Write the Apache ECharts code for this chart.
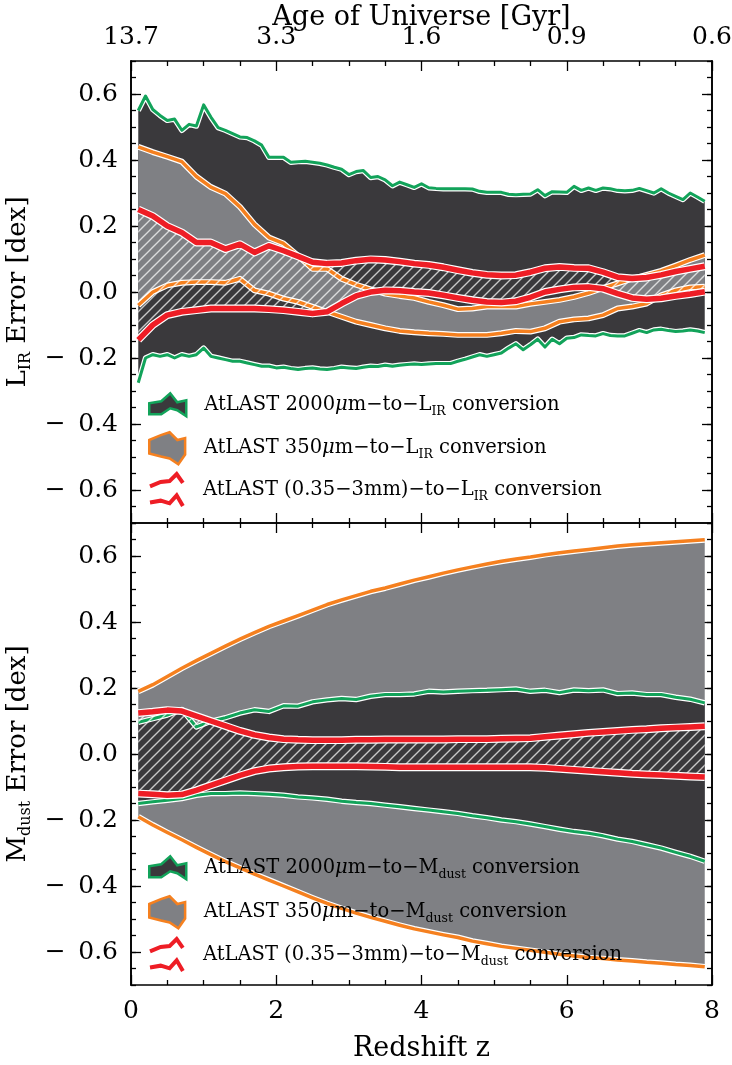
<!DOCTYPE html>
<html><head><meta charset="utf-8">
<script src="https://cdn.jsdelivr.net/npm/echarts@6/dist/echarts.min.js"></script>
<style>html,body{margin:0;padding:0;background:#fff}#c{width:732px;height:1065px}</style>
</head><body><div id="c"></div>
<script>
// ---------------- DATA ----------------
const zFine = [0.1,0.2,0.3,0.4,0.5,0.6,0.7,0.8,0.9,1.0,1.1,1.2,1.3,1.4,1.5,1.6,1.7,1.8,1.9,2.0,
  2.1,2.2,2.3,2.4,2.5,2.6,2.7,2.8,2.9,3.0,3.1,3.2,3.3,3.4,3.5,3.6,3.7,3.8,3.9,4.0,
  4.1,4.2,4.3,4.4,4.5,4.6,4.7,4.8,4.9,5.0,5.1,5.2,5.3,5.4,5.5,5.6,5.7,5.8,5.9,6.0,
  6.1,6.2,6.3,6.4,6.5,6.6,6.7,6.8,6.9,7.0,7.1,7.2,7.3,7.4,7.5,7.6,7.7,7.8,7.9];
const zCoarse = [0.1,0.3,0.5,0.7,0.9,1.1,1.3,1.5,1.7,1.9,2.1,2.3,2.5,2.7,2.9,3.1,3.3,3.5,3.7,3.9,
  4.1,4.3,4.5,4.7,4.9,5.1,5.3,5.5,5.7,5.9,6.1,6.3,6.5,6.7,6.9,7.1,7.3,7.5,7.7,7.9];

// L_IR panel
const irGreenHi = [0.55,0.594,0.553,0.535,0.52,0.524,0.49,0.508,0.503,0.567,
  0.53,0.498,0.49,0.48,0.47,0.468,0.458,0.445,0.408,0.408,
  0.408,0.393,0.395,0.396,0.393,0.39,0.385,0.378,0.372,0.356,
  0.365,0.368,0.347,0.35,0.34,0.322,0.333,0.325,0.317,0.328,
  0.316,0.314,0.313,0.313,0.313,0.313,0.312,0.305,0.302,0.302,
  0.302,0.296,0.295,0.296,0.297,0.31,0.292,0.304,0.303,0.302,
  0.32,0.308,0.315,0.308,0.315,0.313,0.308,0.307,0.308,0.314,
  0.307,0.3,0.313,0.3,0.29,0.28,0.3,0.288,0.275];
const irGreenLo = [-0.275,-0.2,-0.19,-0.195,-0.19,-0.2,-0.19,-0.195,-0.19,-0.17,
  -0.195,-0.2,-0.205,-0.21,-0.21,-0.215,-0.22,-0.225,-0.225,-0.23,
  -0.228,-0.232,-0.235,-0.232,-0.23,-0.233,-0.235,-0.232,-0.228,-0.23,
  -0.232,-0.228,-0.225,-0.226,-0.222,-0.225,-0.222,-0.22,-0.218,-0.22,
  -0.218,-0.217,-0.217,-0.217,-0.21,-0.204,-0.197,-0.19,-0.195,-0.19,
  -0.185,-0.17,-0.157,-0.175,-0.16,-0.143,-0.167,-0.143,-0.157,-0.14,
  -0.138,-0.13,-0.132,-0.133,-0.126,-0.132,-0.133,-0.133,-0.125,-0.117,
  -0.123,-0.115,-0.113,-0.117,-0.12,-0.118,-0.115,-0.118,-0.123];
const irOrangeHi = [0.44,0.424,0.41,0.395,0.35,0.318,0.298,0.258,0.205,0.165,
  0.147,0.11,0.07,0.07,0.04,0.022,0.008,-0.005,-0.012,-0.018,
  -0.03,-0.04,-0.052,-0.05,-0.044,-0.044,-0.044,-0.036,-0.03,-0.024,
  -0.015,-0.003,0.012,0.026,0.04,0.052,0.064,0.08,0.097,0.112];
const irOrangeLo = [-0.04,0.0,0.02,0.028,0.03,0.03,0.028,0.04,0.005,-0.005,
  -0.02,-0.03,-0.045,-0.06,-0.075,-0.09,-0.1,-0.11,-0.118,-0.122,
  -0.125,-0.127,-0.13,-0.13,-0.13,-0.125,-0.118,-0.12,-0.11,-0.09,
  -0.083,-0.08,-0.07,-0.05,-0.044,-0.035,-0.01,0.005,0.014,0.016];
const irRedHi = [0.25,0.23,0.2,0.18,0.15,0.15,0.13,0.145,0.12,0.14,
  0.125,0.108,0.09,0.086,0.088,0.095,0.099,0.097,0.092,0.086,
  0.082,0.075,0.066,0.058,0.052,0.05,0.051,0.06,0.072,0.076,
  0.073,0.072,0.06,0.045,0.041,0.044,0.052,0.062,0.07,0.078];
const irRedLo = [-0.145,-0.1,-0.07,-0.06,-0.055,-0.05,-0.05,-0.05,-0.05,-0.052,
  -0.055,-0.06,-0.065,-0.06,-0.035,-0.012,0.0,0.005,0.004,0.0,
  -0.003,-0.01,-0.018,-0.025,-0.03,-0.032,-0.028,-0.016,0.0,0.008,
  0.014,0.015,0.01,-0.005,-0.018,-0.022,-0.019,-0.012,-0.006,0.001];

// M_dust panel
const mdOrangeHi = [0.19,0.21,0.235,0.26,0.283,0.305,0.327,0.348,0.368,0.387,
  0.403,0.419,0.436,0.453,0.467,0.48,0.493,0.503,0.515,0.527,
  0.537,0.548,0.558,0.567,0.576,0.584,0.591,0.597,0.604,0.61,
  0.615,0.62,0.625,0.63,0.634,0.637,0.64,0.643,0.646,0.649];
const mdOrangeLo = [-0.19,-0.215,-0.238,-0.26,-0.283,-0.305,-0.326,-0.345,-0.364,-0.382,
  -0.4,-0.418,-0.436,-0.453,-0.468,-0.482,-0.495,-0.507,-0.519,-0.53,
  -0.539,-0.548,-0.556,-0.567,-0.575,-0.583,-0.589,-0.595,-0.601,-0.607,
  -0.612,-0.617,-0.62,-0.624,-0.627,-0.631,-0.634,-0.638,-0.641,-0.645];
const mdGreenHi = [0.096,0.107,0.118,0.135,0.082,0.099,0.11,0.124,0.134,0.129,
  0.146,0.145,0.158,0.164,0.168,0.165,0.175,0.18,0.18,0.182,
  0.19,0.188,0.19,0.192,0.193,0.195,0.197,0.19,0.193,0.186,
  0.194,0.192,0.194,0.183,0.185,0.18,0.18,0.172,0.166,0.155];
const mdGreenLo = [-0.15,-0.145,-0.14,-0.135,-0.125,-0.12,-0.12,-0.118,-0.12,-0.122,
  -0.125,-0.13,-0.133,-0.137,-0.143,-0.147,-0.15,-0.155,-0.16,-0.165,
  -0.17,-0.175,-0.18,-0.187,-0.193,-0.2,-0.205,-0.212,-0.22,-0.228,
  -0.235,-0.24,-0.248,-0.258,-0.265,-0.275,-0.285,-0.298,-0.31,-0.325];
const mdRedHi = [0.124,0.128,0.133,0.13,0.115,0.1,0.085,0.07,0.058,0.05,
  0.045,0.043,0.042,0.042,0.042,0.043,0.043,0.044,0.044,0.044,
  0.044,0.044,0.045,0.045,0.045,0.046,0.047,0.048,0.052,0.056,
  0.06,0.064,0.067,0.07,0.073,0.075,0.078,0.08,0.082,0.084];
const mdRedLo = [-0.12,-0.122,-0.125,-0.123,-0.11,-0.095,-0.08,-0.065,-0.052,-0.044,
  -0.04,-0.038,-0.037,-0.037,-0.037,-0.037,-0.038,-0.039,-0.04,-0.04,
  -0.04,-0.04,-0.04,-0.04,-0.04,-0.04,-0.04,-0.04,-0.042,-0.045,
  -0.048,-0.051,-0.054,-0.057,-0.06,-0.062,-0.064,-0.066,-0.068,-0.07];

const xTicks = [0, 2, 4, 6, 8];
const ageLabels = ['13.7', '3.3', '1.6', '0.9', '0.6'];
const yTickValues = [-0.6, -0.4, -0.2, 0, 0.2, 0.4, 0.6];

// ---------------- STYLE ----------------
const FONT = 'DejaVu Serif';
const C_DARK = '#3a393c', C_GRAY = '#7f8084';
const C_GREEN = '#12a35a', C_ORANGE = '#f5801f', C_RED = '#ee1d25';

function makeHatch() {
  const c = document.createElement('canvas');
  c.width = 10; c.height = 10;
  const x = c.getContext('2d');
  x.strokeStyle = 'rgba(255,255,255,0.72)';
  x.lineWidth = 1.4;
  x.beginPath();
  x.moveTo(-1, 11); x.lineTo(11, -1);
  x.moveTo(-6, 6); x.lineTo(6, -6);
  x.moveTo(4, 16); x.lineTo(16, 4);
  x.stroke();
  return c;
}
const hatch = { image: makeHatch(), repeat: 'repeat' };

function bandSeries(name, g, zs, lo, hi, fill, zv) {
  return {
    name: name, type: 'custom', xAxisIndex: 2 * g, yAxisIndex: 4 * g, z: zv,
    silent: true, clip: true,
    encode: { x: 0, y: [1, 2] },
    data: zs.map((z, i) => [z, lo[i], hi[i]]),
    renderItem: function (params, api) {
      if (params.dataIndexInside !== 0) return;
      const n = params.dataInsideLength;
      const up = [], dn = [];
      for (let j = 0; j < n; j++) {
        up.push(api.coord([api.value(0, j), api.value(2, j)]));
        dn.push(api.coord([api.value(0, j), api.value(1, j)]));
      }
      return { type: 'polygon', shape: { points: up.concat(dn.reverse()) }, style: { fill: fill, stroke: null } };
    }
  };
}
function edgeSeries(g, zs, ys, color, width, zv) {
  const d = zs.map((z, i) => [z, ys[i]]);
  const common = { type: 'line', xAxisIndex: 2 * g, yAxisIndex: 4 * g, symbol: 'none', silent: true, z: zv, data: d };
  return [
    Object.assign({}, common, { lineStyle: { color: '#ffffff', width: width + 2.4, join: 'round' } }),
    Object.assign({}, common, { lineStyle: { color: color, width: width, join: 'round' } })
  ];
}

function xAxes(g) {
  const base = {
    type: 'value', gridIndex: g, min: 0, max: 8, interval: 2,
    axisLine: { show: true, onZero: false, lineStyle: { color: '#000', width: 1.6 } },
    axisTick: { show: true, inside: true, length: 10, lineStyle: { color: '#000', width: 1.3 } },
    minorTick: { show: true, splitNumber: 4, length: 5, lineStyle: { color: '#000', width: 1.3 } },
    splitLine: { show: false }, minorSplitLine: { show: false }
  };
  const bottom = Object.assign({}, base, {
    position: 'bottom',
    axisLabel: { show: g === 1, margin: 14, fontFamily: FONT, fontSize: 25, color: '#000' }
  });
  if (g === 1) Object.assign(bottom, {
    name: 'Redshift z', nameLocation: 'middle', nameGap: 50,
    nameTextStyle: { fontFamily: FONT, fontSize: 27, color: '#000' }
  });
  const top = Object.assign({}, base, {
    position: 'top',
    axisLabel: { show: g === 0, margin: 11, fontFamily: FONT, fontSize: 25, color: '#000',
      formatter: v => ageLabels[xTicks.indexOf(v)] }
  });
  if (g === 0) Object.assign(top, {
    name: 'Age of Universe [Gyr]', nameLocation: 'middle', nameGap: 29, nameMoveOverlap: false,
    nameTextStyle: { fontFamily: FONT, fontSize: 27, color: '#000', verticalAlign: 'bottom', lineHeight: 28 }
  });
  return [bottom, top];
}
function yAxes(g, nameRich) {
  const line = { show: true, onZero: false, lineStyle: { color: '#000', width: 1.6 } };
  const tickStyle = { color: '#000', width: 1.3 };
  const base = { type: 'value', gridIndex: g, min: -0.7, max: 0.7, interval: 0.05, splitLine: { show: false }, axisLine: line };
  const fmt = v => (v < -1e-9 ? '\u2212\u2002' : '') + Math.abs(v).toFixed(1);
  return [
    Object.assign({}, base, { position: 'left', axisTick: { inside: true, length: 5, lineStyle: tickStyle }, axisLabel: { show: false } }),
    Object.assign({}, base, {
      position: 'left',
      axisTick: { inside: true, length: 10, lineStyle: tickStyle, customValues: yTickValues },
      axisLabel: { show: true, customValues: yTickValues, formatter: fmt, margin: 13, fontFamily: FONT, fontSize: 25, color: '#000' },
      name: nameRich, nameLocation: 'middle', nameGap: 88, nameRotate: 90,
      nameTextStyle: { color: '#000', rich: {
        t: { fontFamily: FONT, fontSize: 26, color: '#000', lineHeight: 32 },
        s: { fontFamily: FONT, fontSize: 16, color: '#000', verticalAlign: 'bottom', lineHeight: 18 }
      } }
    }),
    Object.assign({}, base, { position: 'right', axisTick: { inside: true, length: 5, lineStyle: tickStyle }, axisLabel: { show: false } }),
    Object.assign({}, base, { position: 'right', axisTick: { inside: true, length: 10, lineStyle: tickStyle, customValues: yTickValues }, axisLabel: { show: false } })
  ];
}

const legendLabels = {
  ir2000: '{sp| }{t|AtLAST 2000}{mu|\u03bc}{t|m\u2212to\u2212L}{s|IR}{t| conversion}',
  ir350: '{sp| }{t|AtLAST 350}{mu|\u03bc}{t|m\u2212to\u2212L}{s|IR}{t| conversion}',
  irComb: '{sp| }{t|AtLAST (0.35\u22123mm)\u2212to\u2212L}{s|IR}{t| conversion}',
  md2000: '{sp| }{t|AtLAST 2000}{mu|\u03bc}{t|m\u2212to\u2212M}{s|dust}{t| conversion}',
  md350: '{sp| }{t|AtLAST 350}{mu|\u03bc}{t|m\u2212to\u2212M}{s|dust}{t| conversion}',
  mdComb: '{sp| }{t|AtLAST (0.35\u22123mm)\u2212to\u2212M}{s|dust}{t| conversion}'
};
const legendRich = {
  sp: { width: 13 },
  t: { fontFamily: FONT, fontSize: 19.5, color: '#000', lineHeight: 26 },
  mu: { fontFamily: FONT, fontSize: 19.5, fontStyle: 'italic', color: '#000', lineHeight: 26 },
  s: { fontFamily: FONT, fontSize: 12.5, color: '#000', verticalAlign: 'bottom', lineHeight: 14 }
};
const ICONS = {
  g: { icon: 'path://M0,10 L12,8 L21,0 L28,9 L37,7 L37,23 L28,17 L21,15 L12,21 L0,21 Z',
       itemStyle: { color: C_DARK, borderColor: C_GREEN, borderWidth: 2.5 } },
  o: { icon: 'path://M0,8 L12,3 L21,0 L29,8 L37,6 L37,23 L30,33 L21,27 L12,25 L0,22 Z',
       itemStyle: { color: C_GRAY, borderColor: C_ORANGE, borderWidth: 2.5 } },
  r: { icon: 'path://M0,14 L12,9 L22,8 L30,0 L37,10 M0,32 L12,30 L22,33 L30,24 L37,36',
       itemStyle: { color: 'rgba(0,0,0,0)', borderColor: C_RED, borderWidth: 4 } }
};
function legendItem(key, kind, top) {
  return {
    orient: 'vertical', left: 148, top: top, padding: 0,
    itemWidth: 37, itemHeight: 32, selectedMode: false,
    formatter: n => legendLabels[n],
    textStyle: { rich: legendRich, color: '#000' },
    data: [Object.assign({ name: key }, ICONS[kind])]
  };
}

const series = [].concat(
  // top panel: L_IR
  [bandSeries('ir2000', 0, zFine, irGreenLo, irGreenHi, C_DARK, 1)],
  edgeSeries(0, zFine, irGreenHi, C_GREEN, 3, 2), edgeSeries(0, zFine, irGreenLo, C_GREEN, 3, 2),
  [bandSeries('ir350', 0, zCoarse, irOrangeLo, irOrangeHi, C_GRAY, 3)],
  edgeSeries(0, zCoarse, irOrangeHi, C_ORANGE, 3.5, 4), edgeSeries(0, zCoarse, irOrangeLo, C_ORANGE, 3.5, 4),
  [bandSeries('irComb', 0, zCoarse, irRedLo, irRedHi, hatch, 5)],
  edgeSeries(0, zCoarse, irRedHi, C_RED, 5.5, 6), edgeSeries(0, zCoarse, irRedLo, C_RED, 5.5, 6),
  // bottom panel: M_dust
  [bandSeries('md350', 1, zCoarse, mdOrangeLo, mdOrangeHi, C_GRAY, 1)],
  edgeSeries(1, zCoarse, mdOrangeHi, C_ORANGE, 3.5, 2), edgeSeries(1, zCoarse, mdOrangeLo, C_ORANGE, 3.5, 2),
  [bandSeries('md2000', 1, zCoarse, mdGreenLo, mdGreenHi, C_DARK, 3)],
  edgeSeries(1, zCoarse, mdGreenHi, C_GREEN, 3, 4), edgeSeries(1, zCoarse, mdGreenLo, C_GREEN, 3, 4),
  [bandSeries('mdComb', 1, zCoarse, mdRedLo, mdRedHi, hatch, 5)],
  edgeSeries(1, zCoarse, mdRedHi, C_RED, 5.5, 6), edgeSeries(1, zCoarse, mdRedLo, C_RED, 5.5, 6)
);

const chart = echarts.init(document.getElementById('c'), null, { renderer: 'canvas' });
chart.setOption({
  animation: false,
  backgroundColor: '#fff',
  grid: [
    { left: 131, right: 20, top: 61, height: 462, outerBoundsMode: 'none' },
    { left: 131, right: 20, top: 523, height: 462, outerBoundsMode: 'none' }
  ],
  xAxis: xAxes(0).concat(xAxes(1)),
  yAxis: yAxes(0, '{t|L}{s|IR}{t| Error [dex]}').concat(yAxes(1, '{t|M}{s|dust}{t| Error [dex]}')),
  legend: [
    legendItem('ir2000', 'g', 392), legendItem('ir350', 'o', 431), legendItem('irComb', 'r', 472),
    legendItem('md2000', 'g', 855), legendItem('md350', 'o', 895), legendItem('mdComb', 'r', 937)
  ],
  series: series
});
</script>
</body></html>
